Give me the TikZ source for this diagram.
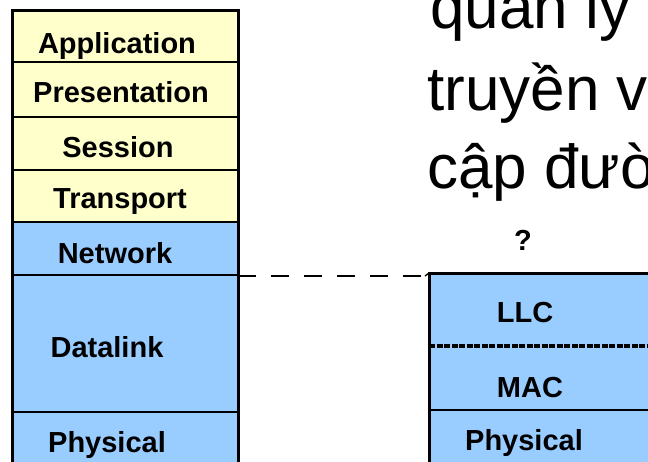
\documentclass[tikz,border=0pt]{standalone}
\usepackage{fontspec}
\setmainfont{Liberation Sans}
\usepackage{xcolor}
\usetikzlibrary{positioning}
\definecolor{upperyellow}{HTML}{FFFFCC}
\definecolor{lowerblue}{HTML}{99CCFF}

\begin{document}
\begin{tikzpicture}[
    x=1pt, y=-1pt,
    layer/.style={draw, line width=1.6pt, minimum width=226pt, inner sep=0pt, outer sep=0pt},
    sublayer/.style={minimum width=300pt, inner sep=0pt, outer sep=0pt, fill=lowerblue, anchor=north west},
    lbl/.style={font=\fontsize{29}{29}\selectfont\bfseries, anchor=base, inner sep=0pt},
    big/.style={font=\fontsize{62}{80}\selectfont, anchor=base west, inner sep=0pt}
  ]
  \useasboundingbox (0,0) rectangle (648,461);
  \clip (0,0) rectangle (648,461);

  % OSI stack
  \node[layer, fill=upperyellow, minimum height=52pt, anchor=north] (app) at (125,10) {};
  \node[layer, fill=upperyellow, minimum height=55pt, below=0pt of app] (pres) {};
  \node[layer, fill=upperyellow, minimum height=53pt, below=0pt of pres] (sess) {};
  \node[layer, fill=upperyellow, minimum height=52pt, below=0pt of sess] (trans) {};
  \node[layer, fill=lowerblue, minimum height=53pt, below=0pt of trans] (net) {};
  \node[layer, fill=lowerblue, minimum height=137pt, below=0pt of net] (dl) {};
  \node[layer, fill=lowerblue, minimum height=60pt, below=0pt of dl] (phy) {};
  \draw[line width=3pt] (app.north west) rectangle (phy.south east);

  \node[lbl] (applbl)   at (117,53)  {Application};
  \node[lbl] (preslbl)  at (121,102) {Presentation};
  \node[lbl] (sesslbl)  at (118,157) {Session};
  \node[lbl] (translbl) at (120,208) {Transport};
  \node[lbl] (netlbl)   at (115,263) {Network};
  \node[lbl] (dllbl)    at (107,357) {Datalink};
  \node[lbl] (phylbl)   at (107,452) {Physical};

  % IEEE 802 sublayers
  \node[sublayer, minimum height=73pt] (llc) at (429,273) {};
  \node[sublayer, minimum height=64pt] (mac) at (429,346) {};
  \node[sublayer, minimum height=60pt] (rphy) at (429,410) {};
  \draw[line width=4.5pt, dash pattern=on 6pt off 1.5pt] (llc.south west) -- (llc.south east);
  \draw[line width=2pt] (mac.south west) -- (mac.south east);
  \draw[line width=3pt] (llc.north west) rectangle (rphy.south east);

  \node[lbl] (llclbl)  at (525,322) {LLC};
  \node[lbl] (maclbl)  at (530,397) {MAC};
  \node[lbl] (rphylbl) at (524,450) {Physical};
  \node[lbl] (qlbl)    at (523,250) {?};

  \coordinate (joint) at ([xshift=-4pt, yshift=-3pt]llc.north west);
  \draw[line width=1.3pt, dash pattern=on 18pt off 15pt] ([yshift=-1pt]net.south east) -- (joint);
  \draw[line width=1.3pt] (joint) -- (llc.north west);

  % slide text
  \node[big] (line1) at (430,28)  {quản lý};
  \node[big] (line2) at (427,110) {truyền v};
  \node[big] (line3) at (427,188) {cập đườ};
\end{tikzpicture}
\end{document}
